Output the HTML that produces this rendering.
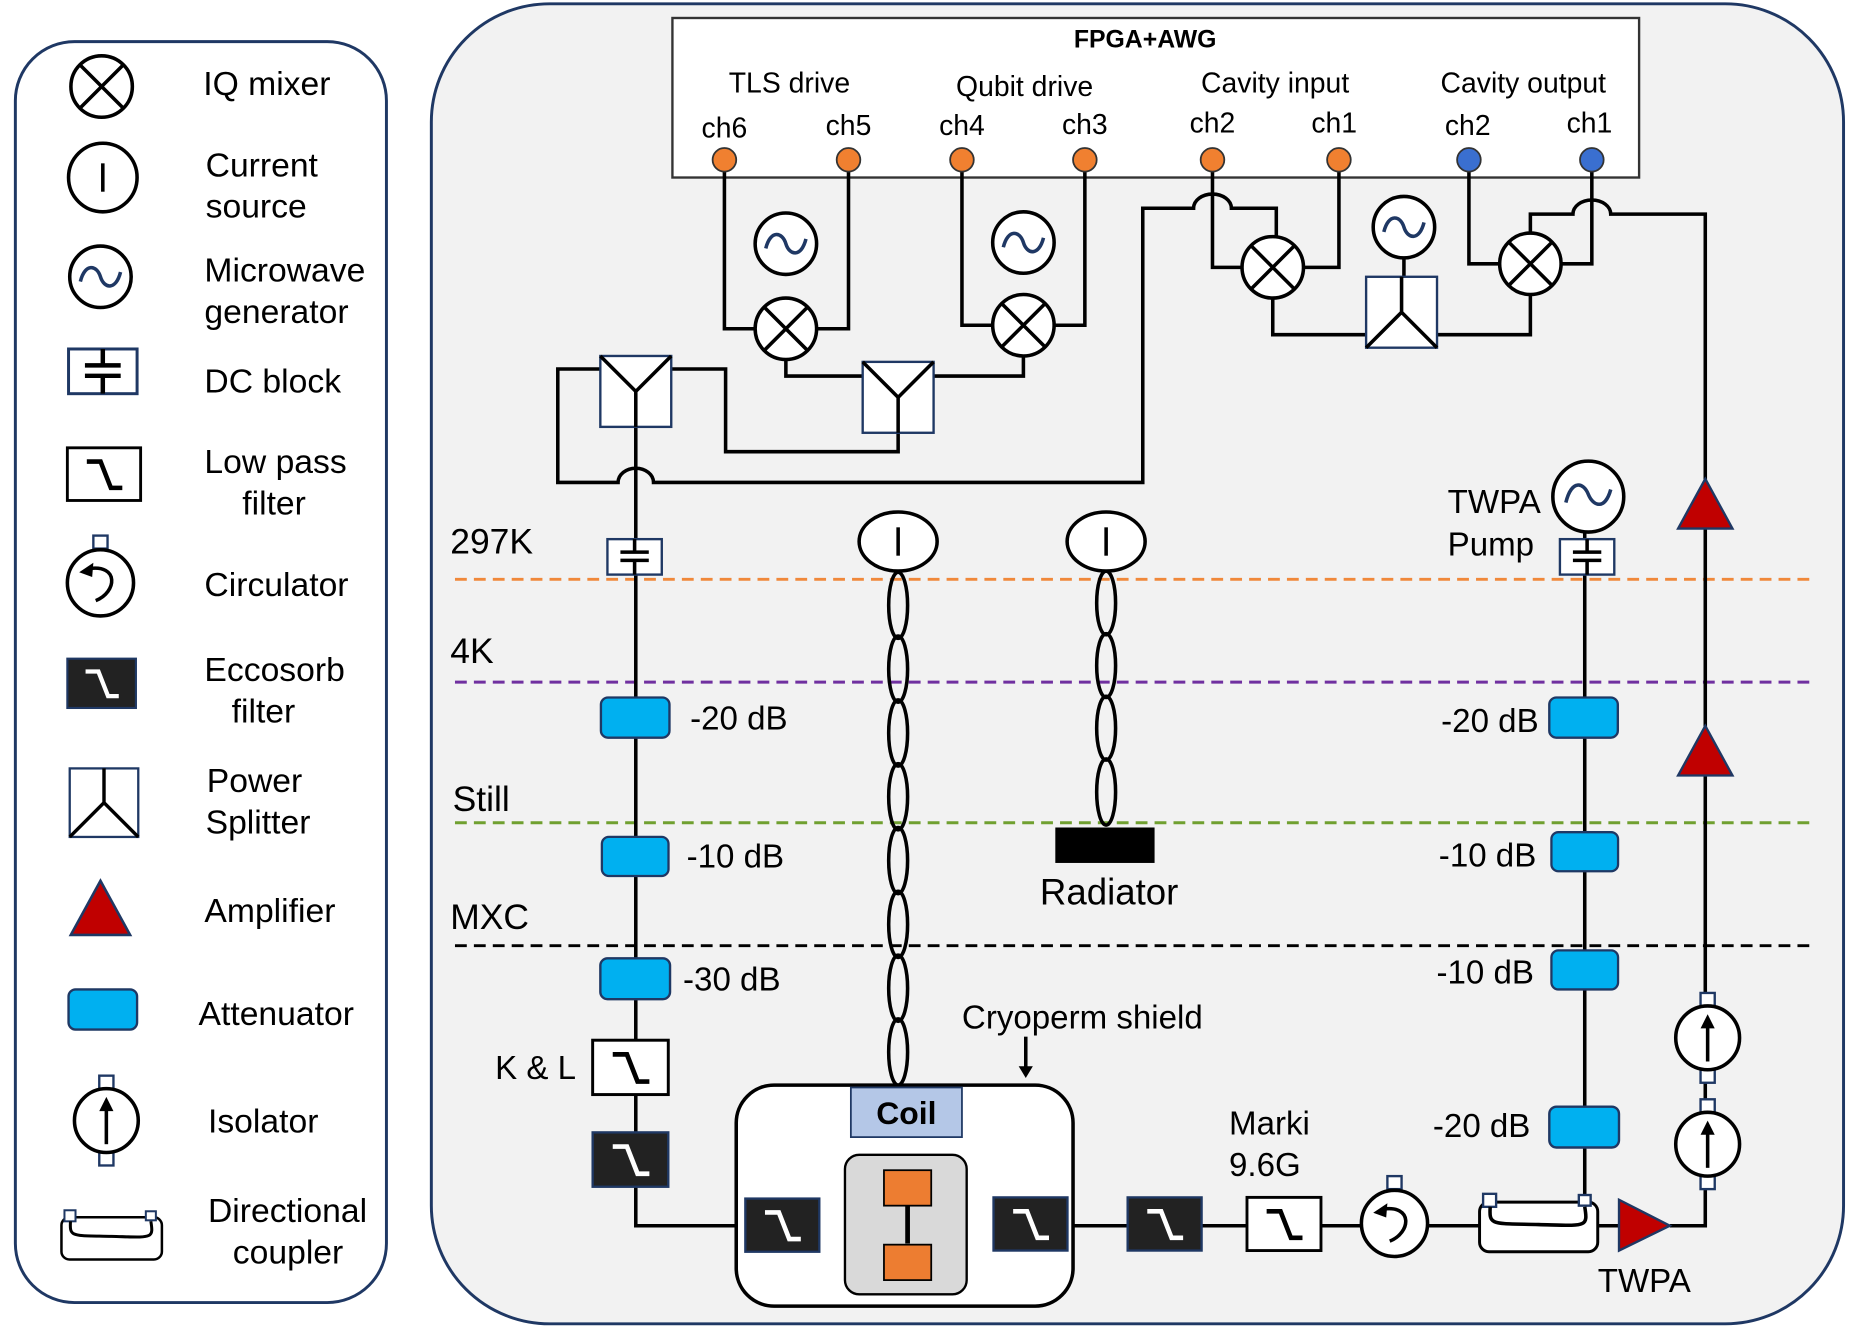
<!DOCTYPE html>
<html><head><meta charset="utf-8"><style>
html,body{margin:0;padding:0;background:#fff;}
svg{display:block;font-family:"Liberation Sans",Arial,sans-serif;}
</style></head><body>
<svg width="1853" height="1330" viewBox="0 0 1568 1125" xmlns="http://www.w3.org/2000/svg">
<defs>
<symbol id="mix" viewBox="-28 -28 56 56" overflow="visible"><circle r="26" fill="#fff" stroke="#000" stroke-width="3"/><path d="M-18-18L18 18M18-18L-18 18" stroke="#000" stroke-width="3"/></symbol>
<symbol id="gen" viewBox="-28 -28 56 56" overflow="visible"><circle r="26" fill="#fff" stroke="#000" stroke-width="3"/><path d="M-17 4C-13-12 -3-10 0 0S13 12 17-4" fill="none" stroke="#1f3864" stroke-width="3"/></symbol>
<symbol id="lpf" viewBox="0 0 64 46" overflow="visible"><rect x="0" y="0" width="64" height="46" fill="#fff" stroke="#000" stroke-width="2.5"/><path d="M17 12H29L38 35H48" fill="none" stroke="#000" stroke-width="4"/></symbol>
<symbol id="eco" viewBox="0 0 64 46" overflow="visible"><rect x="0" y="0" width="64" height="46" fill="#222" stroke="#1f3864" stroke-width="2"/><path d="M17 12H29L38 35H48" fill="none" stroke="#fff" stroke-width="4"/></symbol>
<symbol id="spl" viewBox="0 0 60 60" overflow="visible"><rect x="0" y="0" width="60" height="60" fill="#fff" stroke="#1f3864" stroke-width="2"/><path d="M0 0L30 30L60 0M30 30V60" fill="none" stroke="#000" stroke-width="3"/></symbol>
<symbol id="splu" viewBox="0 0 60 60" overflow="visible"><rect x="0" y="0" width="60" height="60" fill="#fff" stroke="#1f3864" stroke-width="2"/><path d="M0 60L30 30L60 60M30 30V0" fill="none" stroke="#000" stroke-width="3"/></symbol>
<symbol id="att" viewBox="0 0 60 36" overflow="visible"><rect x="1" y="1" width="58" height="34" rx="6" fill="#00b0f0" stroke="#1f3864" stroke-width="2"/></symbol>
<symbol id="dcb" viewBox="0 0 46 30" overflow="visible"><rect x="0" y="0" width="46" height="30" fill="#fff" stroke="#1f3864" stroke-width="2"/><path d="M23 0V11M11 11H35M11 18H35M23 18V30" fill="none" stroke="#000" stroke-width="3"/></symbol>
<symbol id="iso" viewBox="-30 -40 60 80" overflow="visible"><rect x="-6" y="-38" width="12" height="11" fill="#fff" stroke="#1f3864" stroke-width="2"/><rect x="-6" y="27" width="12" height="11" fill="#fff" stroke="#1f3864" stroke-width="2"/><circle r="27" fill="#fff" stroke="#000" stroke-width="3"/><path d="M0 20V-10" stroke="#000" stroke-width="3"/><path d="M-6-8L0-20L6-8Z" fill="#000"/></symbol>
<symbol id="circ" viewBox="-30 -40 60 70" overflow="visible"><rect x="-6" y="-40" width="12" height="11" fill="#fff" stroke="#1f3864" stroke-width="2"/><circle r="28" fill="#fff" stroke="#000" stroke-width="3"/><path d="M-4 15C14 8 16-16-10-12" fill="none" stroke="#000" stroke-width="3"/><path d="M-18-9L-6-17L-7-5Z" fill="#000"/></symbol>
<symbol id="cpl" viewBox="0 0 100 46" overflow="visible"><rect x="0" y="4" width="100" height="42" rx="8" fill="#fff" stroke="#000" stroke-width="2.5"/><rect x="3" y="-3" width="11" height="11" fill="#fff" stroke="#1f3864" stroke-width="2"/><rect x="84" y="-2" width="10" height="9" fill="#fff" stroke="#1f3864" stroke-width="2"/><path d="M9 8C8 24 10 22 50 23S92 26 89 8" fill="none" stroke="#000" stroke-width="3"/></symbol>
<symbol id="amp" viewBox="0 0 48 44" overflow="visible"><path d="M24 1L47 43H1Z" fill="#c00000" stroke="#1f3864" stroke-width="2"/></symbol>
</defs>

<!-- legend -->
<rect x="13" y="35" width="314" height="1067" rx="50" fill="#fff" stroke="#1f3864" stroke-width="2.5"/>
<use href="#mix" x="58" y="45" width="56" height="56"/>
<circle cx="87" cy="150" r="29" fill="#fff" stroke="#000" stroke-width="3"/><path d="M87 138V162" stroke="#000" stroke-width="3"/>
<use href="#gen" x="57" y="206" width="56" height="56"/>
<use href="#dcb" x="58" y="292" width="58" height="44"/>
<use href="#lpf" x="57" y="378" width="62" height="46"/>
<use href="#circ" x="55" y="453" width="60" height="70"/>
<use href="#eco" x="57" y="555" width="58" height="46"/>
<use href="#splu" x="57" y="650" width="62" height="58"/>
<use href="#amp" x="54" y="744" width="62" height="48"/>
<use href="#att" x="57" y="835" width="60" height="38"/>
<use href="#iso" x="60" y="908" width="60" height="80"/>
<use href="#cpl" x="52" y="1022" width="85" height="48"/>
<g font-size="28.5" fill="#000">
<text x="172" y="80">IQ mixer</text>
<text x="174" y="149">Current</text><text x="174" y="184">source</text>
<text x="173" y="238">Microwave</text><text x="173" y="273">generator</text>
<text x="173" y="332">DC block</text>
<text x="173" y="400">Low pass</text><text x="205" y="435">filter</text>
<text x="173" y="504">Circulator</text>
<text x="173" y="576">Eccosorb</text><text x="196" y="611">filter</text>
<text x="175" y="670">Power</text><text x="174" y="705">Splitter</text>
<text x="173" y="780">Amplifier</text>
<text x="168" y="867">Attenuator</text>
<text x="176" y="958">Isolator</text>
<text x="176" y="1034">Directional</text><text x="197" y="1069">coupler</text>
</g>

<!-- main -->
<rect x="365" y="3" width="1195" height="1117" rx="100" fill="#f2f2f2" stroke="#1f3864" stroke-width="2.5"/>
<rect x="569" y="15" width="818" height="135" fill="#fff" stroke="#333" stroke-width="2"/>
<text x="969" y="40" font-size="21" font-weight="bold" text-anchor="middle">FPGA+AWG</text>
<g font-size="24" text-anchor="middle">
<text x="668" y="78">TLS drive</text><text x="867" y="81">Qubit drive</text><text x="1079" y="78">Cavity input</text><text x="1289" y="78">Cavity output</text>
<text x="613" y="116">ch6</text><text x="718" y="114">ch5</text><text x="814" y="114">ch4</text><text x="918" y="113">ch3</text><text x="1026" y="112">ch2</text><text x="1129" y="112">ch1</text><text x="1242" y="114">ch2</text><text x="1345" y="112">ch1</text>
</g>

<!-- dashed lines -->
<g stroke-width="2.5" stroke-dasharray="10,6" fill="none">
<path d="M385 490H1537" stroke="#f0883a"/>
<path d="M385 577H1537" stroke="#7030a0"/>
<path d="M385 696H1537" stroke="#70a030"/>
<path d="M385 800H1537" stroke="#000"/>
</g>
<g font-size="30"><text x="381" y="468">297K</text><text x="381" y="561">4K</text><text x="383" y="686">Still</text><text x="381" y="786">MXC</text></g>

<!-- wires -->
<g fill="none" stroke="#000" stroke-width="3">
<path d="M613 135V278H640M718 135V278H690"/>
<path d="M814 135V275H841M918 135V275H891"/>
<path d="M665 304V318H731M866 301V318H789"/>
<path d="M760 336V382H614V312H568"/>
<path d="M508 312H472V408H523A15 12 0 0 1 553 408H967V176H1010A16 12 0 0 1 1042 176H1080V200"/>
<path d="M538 331V1037H630"/>
<path d="M1026 135V226H1051M1133 135V226H1103"/>
<path d="M1077 252V283H1157M1216 283H1295V249"/>
<path d="M1188 218V264"/>
<path d="M1243 135V223H1269M1347 135V223H1321"/>
<path d="M1295 197V181H1331A16 12 0 0 1 1363 181H1443V1037H1413"/>
<path d="M1341 450V1020"/>
<path d="M694 1037H840M904 1037H1370"/>
<path d="M868 877V905"/>
</g>
<path d="M862 902L868 912L874 902Z" fill="#000"/>

<use href="#gen" x="637" y="178" width="56" height="56"/>
<use href="#gen" x="838" y="177" width="56" height="56"/>
<use href="#gen" x="1160" y="164" width="56" height="56"/>
<use href="#mix" x="637" y="250" width="56" height="56"/>
<use href="#mix" x="838" y="247" width="56" height="56"/>
<use href="#mix" x="1049" y="198" width="56" height="56"/>
<use href="#mix" x="1267" y="195" width="56" height="56"/>
<use href="#spl" x="508" y="301" width="60" height="60"/>
<use href="#spl" x="730" y="306" width="60" height="60"/>
<use href="#splu" x="1156" y="234" width="60" height="60"/>

<use href="#dcb" x="514" y="456" width="46" height="30"/>
<use href="#dcb" x="1320" y="456" width="46" height="30"/>
<circle cx="1344" cy="420" r="30" fill="#fff" stroke="#000" stroke-width="3"/><path d="M1325 425C1330 405 1340 408 1344 418S1358 432 1363 414" fill="none" stroke="#1f3864" stroke-width="3"/>
<g font-size="28"><text x="1225" y="434">TWPA</text><text x="1225" y="470">Pump</text></g>

<use href="#att" x="507" y="589" width="61" height="36"/>
<use href="#att" x="507" y="707" width="61" height="35"/>
<use href="#att" x="507" y="808" width="61" height="40"/>
<use href="#att" x="1310" y="589" width="60" height="36"/>
<use href="#att" x="1310" y="703" width="62" height="35"/>
<use href="#att" x="1310" y="803" width="62" height="35"/>
<use href="#att" x="1310" y="935" width="61" height="37"/>
<g font-size="28"><text x="584" y="617">-20 dB</text><text x="581" y="734">-10 dB</text><text x="578" y="838">-30 dB</text>
<g text-anchor="end"><text x="1302" y="619">-20 dB</text><text x="1300" y="733">-10 dB</text><text x="1298" y="832">-10 dB</text><text x="1295" y="962">-20 dB</text></g>
<text x="419" y="913">K &amp; L</text><text x="1040" y="960">Marki</text><text x="1040" y="995">9.6G</text><text x="1352" y="1093">TWPA</text>
<text x="814" y="870">Cryoperm shield</text></g>
<text x="880" y="765" font-size="31">Radiator</text>

<use href="#lpf" x="501" y="880" width="65" height="46"/>
<use href="#eco" x="501" y="958" width="65" height="46"/>

<!-- twisted pairs -->
<g fill="none" stroke="#000" stroke-width="3">
<ellipse cx="760" cy="512" rx="8" ry="28"/><ellipse cx="760" cy="566" rx="8" ry="28"/><ellipse cx="760" cy="620" rx="8" ry="28"/><ellipse cx="760" cy="674" rx="8" ry="28"/><ellipse cx="760" cy="728" rx="8" ry="28"/><ellipse cx="760" cy="782" rx="8" ry="28"/><ellipse cx="760" cy="836" rx="8" ry="28"/><ellipse cx="760" cy="890" rx="8" ry="28"/>
<ellipse cx="936" cy="510" rx="8" ry="27"/><ellipse cx="936" cy="563" rx="8" ry="27"/><ellipse cx="936" cy="616" rx="8" ry="27"/><ellipse cx="936" cy="670" rx="8" ry="28"/>
</g>
<ellipse cx="760" cy="458" rx="33" ry="25" fill="#fff" stroke="#000" stroke-width="3"/><path d="M760 446V470" stroke="#000" stroke-width="3"/>
<ellipse cx="936" cy="458" rx="33" ry="25" fill="#fff" stroke="#000" stroke-width="3"/><path d="M936 446V470" stroke="#000" stroke-width="3"/>
<rect x="893" y="700" width="84" height="30" fill="#000"/>

<!-- shield -->
<rect x="623" y="918" width="285" height="187" rx="32" fill="#fff" stroke="#000" stroke-width="3"/>
<rect x="720" y="920" width="94" height="42" fill="#b4c7e7" stroke="#1f3864" stroke-width="1.5"/>
<text x="767" y="951" font-size="27" font-weight="bold" text-anchor="middle">Coil</text>
<rect x="715" y="977" width="103" height="118" rx="12" fill="#d9d9d9" stroke="#000" stroke-width="2"/>
<path d="M768 1020V1052" stroke="#000" stroke-width="4"/>
<rect x="748" y="990" width="40" height="30" fill="#ed7d31" stroke="#000" stroke-width="1.5"/>
<rect x="748" y="1053" width="40" height="30" fill="#ed7d31" stroke="#000" stroke-width="1.5"/>
<use href="#eco" x="630" y="1014" width="64" height="45"/>
<use href="#eco" x="840" y="1013" width="64" height="45"/>
<use href="#eco" x="953" y="1013" width="65" height="45"/>
<use href="#lpf" x="1055" y="1013" width="63" height="45"/>
<use href="#circ" x="1150" y="995" width="60" height="70"/>
<use href="#cpl" x="1252" y="1013" width="100" height="46"/>
<path d="M1370 1015L1413 1037L1370 1058Z" fill="#c00000" stroke="#1f3864" stroke-width="2"/>
<use href="#iso" x="1415" y="838" width="60" height="80"/>
<use href="#iso" x="1415" y="928" width="60" height="80"/>
<use href="#amp" x="1419" y="613" width="48" height="44"/>
<use href="#amp" x="1419" y="404" width="48" height="44"/>

<!-- dots -->
<g stroke="#333" stroke-width="1.5">
<circle cx="613" cy="135" r="10" fill="#f08030"/><circle cx="718" cy="135" r="10" fill="#f08030"/><circle cx="814" cy="135" r="10" fill="#f08030"/><circle cx="918" cy="135" r="10" fill="#f08030"/><circle cx="1026" cy="135" r="10" fill="#f08030"/><circle cx="1133" cy="135" r="10" fill="#f08030"/><circle cx="1243" cy="135" r="10" fill="#3a6fd0"/><circle cx="1347" cy="135" r="10" fill="#3a6fd0"/>
</g>
</svg>
</body></html>
